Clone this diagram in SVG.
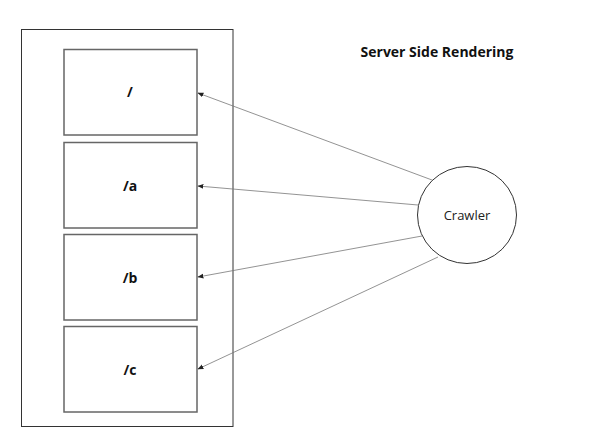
<svg xmlns="http://www.w3.org/2000/svg" width="591" height="443" viewBox="0 0 591 443">
<style>
.box{fill:#fff;stroke:#666;stroke-width:1.5}
.lbl{font-family:"Open Sans","Liberation Sans",sans-serif;font-weight:bold;font-size:14px;text-anchor:middle;fill:#111}
.conn{stroke:#777;stroke-width:0.8;fill:none;marker-end:url(#ah)}
</style>
<defs>
<marker id="ah" viewBox="0 0 10 10" refX="9" refY="5" markerWidth="6" markerHeight="6" orient="auto" markerUnits="userSpaceOnUse">
<path d="M0,1 L10,5 L0,9 Z" fill="#222"/>
</marker>
</defs>
<rect width="591" height="443" fill="#fff"/>
<g id="container"><rect x="21.5" y="29.5" width="211.5" height="397" fill="#fff" stroke="#333" stroke-width="1"/></g>
<g id="node-root"><rect class="box" x="64" y="49.5" width="133" height="85.5"/><text class="lbl" x="130" y="97">/</text></g>
<g id="node-a"><rect class="box" x="64" y="142.5" width="133" height="85.5"/><text class="lbl" x="130" y="191">/a</text></g>
<g id="node-b"><rect class="box" x="64" y="234.5" width="133" height="85.5"/><text class="lbl" x="130" y="283">/b</text></g>
<g id="node-c"><rect class="box" x="64" y="326.5" width="133" height="85.5"/><text class="lbl" x="130" y="375">/c</text></g>
<g id="crawler"><ellipse cx="467" cy="215" rx="49.5" ry="48.5" fill="#fff" stroke="#333" stroke-width="1"/><text x="467" y="220" font-family="Open Sans,Liberation Sans,sans-serif" font-size="13" text-anchor="middle" fill="#222">Crawler</text></g>
<g id="title"><text x="437" y="57" font-family="Open Sans,Liberation Sans,sans-serif" font-weight="bold" font-size="14" text-anchor="middle" fill="#111">Server Side Rendering</text></g>
<g id="connectors">
<line class="conn" x1="432" y1="180" x2="198" y2="93"/>
<line class="conn" x1="418" y1="205" x2="198" y2="186"/>
<line class="conn" x1="422" y1="236" x2="198" y2="277"/>
<line class="conn" x1="438" y1="257" x2="198" y2="369"/>
</g>
</svg>
